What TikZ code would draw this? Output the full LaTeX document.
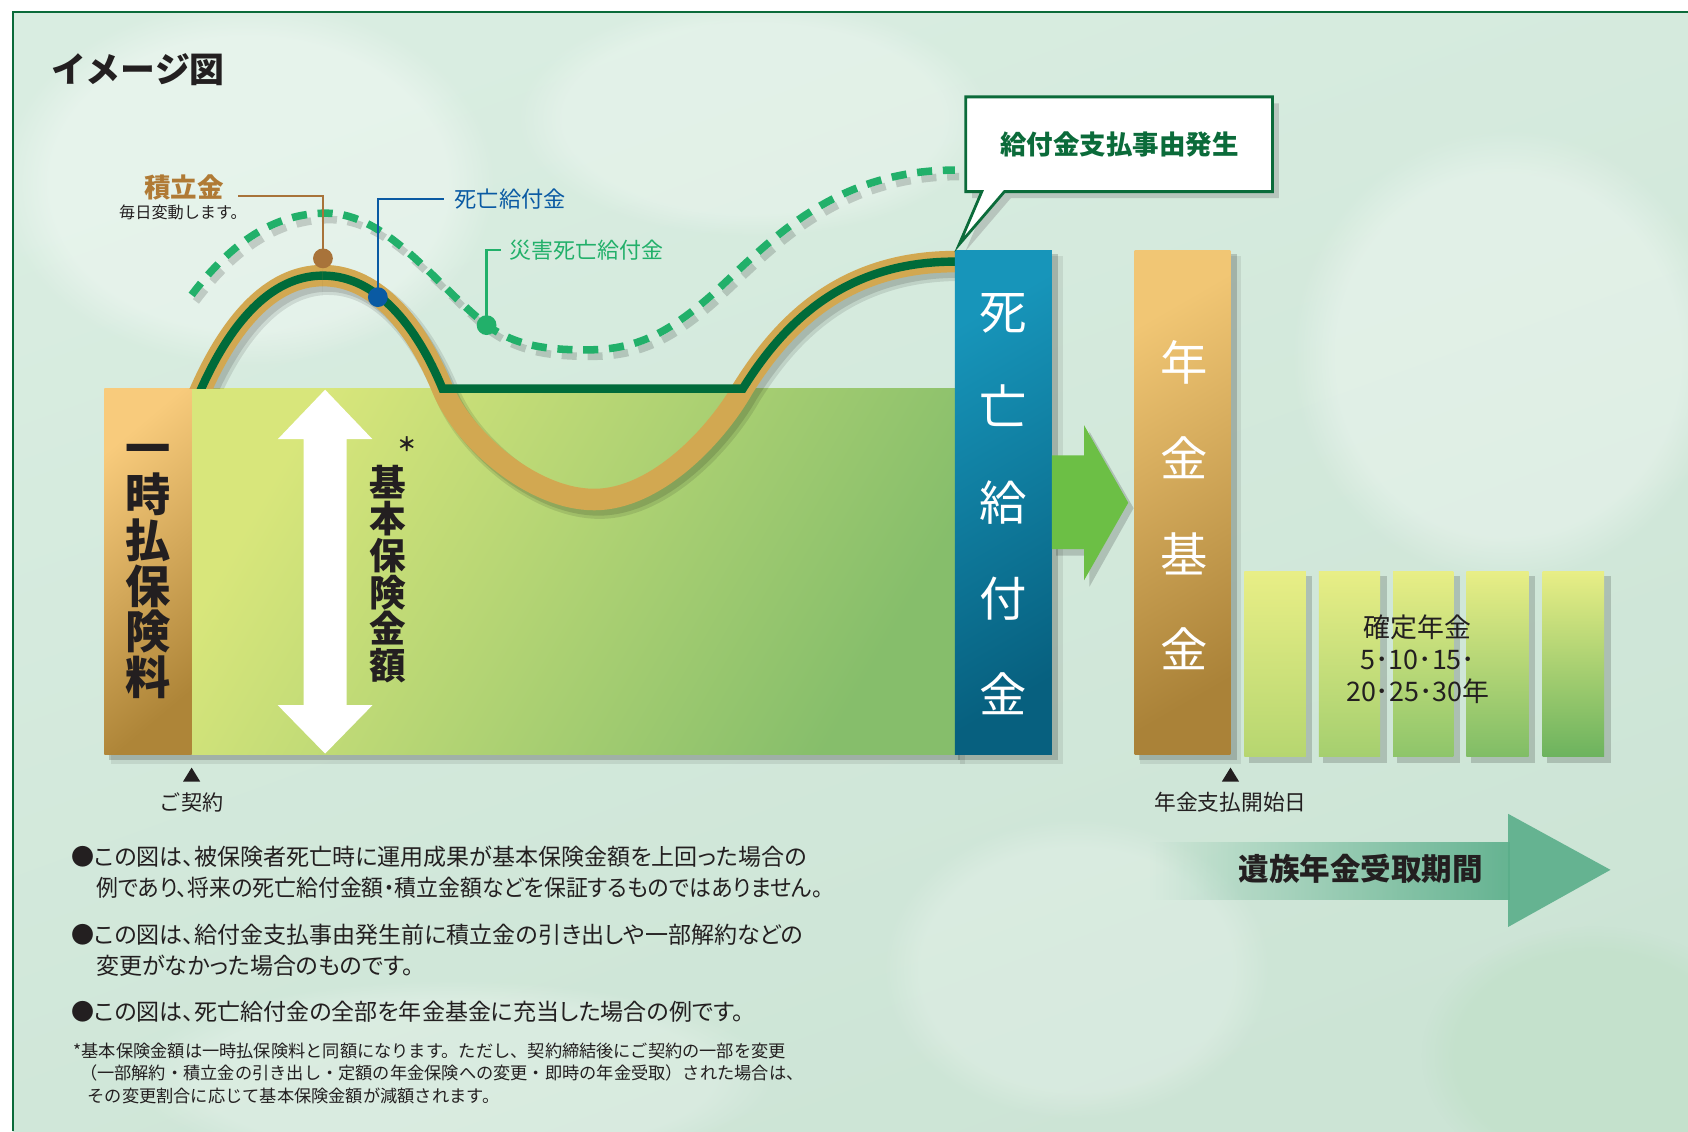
\documentclass[tikz,border=0pt]{standalone}
\usepackage{fontspec}
\setmainfont{Noto Sans CJK JP}
\newfontfamily\pfont{Noto Sans CJK JP}[RawFeature=+palt]
\newfontfamily\pfontn{Noto Sans CJK JP}[RawFeature=+palt, FakeStretch=0.95]
\usetikzlibrary{shadows,fadings}
\definecolor{bgA}{HTML}{D9EDE1}
\definecolor{bgC}{HTML}{CCE4D5}
\definecolor{framec}{HTML}{0B6B3A}
\definecolor{ink}{HTML}{231F20}
\definecolor{goldc}{HTML}{D2A851}
\definecolor{dkgreen}{HTML}{006B3A}
\definecolor{dotc}{HTML}{22B06A}
\definecolor{brownc}{HTML}{A8733A}
\definecolor{browntext}{HTML}{B07A35}
\definecolor{bluec}{HTML}{0A5AA3}
\definecolor{arrowgreen}{HTML}{6CBF45}
\definecolor{fadearrow}{HTML}{5AAE8A}
\definecolor{grA}{HTML}{D8E67B}
\definecolor{grB}{HTML}{86BE6B}
\definecolor{orA}{HTML}{F8CB7C}
\definecolor{orB}{HTML}{AE8538}
\definecolor{blA}{HTML}{1795BA}
\definecolor{blB}{HTML}{07607F}
\definecolor{fuA}{HTML}{F1C674}
\definecolor{fuB}{HTML}{AA8238}
\tikzfading[name=fadefromleft, left color=transparent!100, right color=transparent!0]
\newcommand\fsz[2]{\fontsize{#1}{#2}\selectfont}
\begin{document}
\begin{tikzpicture}[x=0.5pt,y=-0.5pt,
  lbl/.style={inner sep=0pt, text=ink},
  shadowfill/.style={fill=black, opacity=0.17},
  softshadow/.style={fill=black, opacity=0.08},
  dotshadow/.style={preaction={draw=black, opacity=0.16, line width=3.5pt, dash pattern=on 7pt off 5pt,
      transform canvas={shift={(2pt,-3pt)}}}},
  goldshadow/.style={preaction={draw=black, opacity=0.10, line width=12pt, transform canvas={shift={(2.5pt,-3pt)}}},
      preaction={draw=black, opacity=0.12, line width=10pt, transform canvas={shift={(2pt,-2.5pt)}}}},
  leaddot/.style={circle, inner sep=0pt, minimum size=9.2pt},
  leader/.style={line width=1.1pt},
  vtext/.style={inner sep=0pt, align=center},
  blob/.style={fill=white, path fading=circle with fuzzy edge 20 percent}
]
\path[use as bounding box] (0,0) rectangle (1568,1051);
\fill[white] (0,0) rectangle (1568,1051);
\shade[top color=bgA, bottom color=bgC, shading angle=20] (12,11) rectangle (1568,1051);
\begin{scope}
\clip (12,11) rectangle (1568,1051);
\fill[blob, opacity=0.35] (230,170) ellipse (230 and 170);
\fill[blob, opacity=0.28] (700,110) ellipse (220 and 110);
\fill[blob, opacity=0.32] (1400,330) ellipse (200 and 210);
\fill[blob, opacity=0.22] (1000,900) ellipse (180 and 140);
\fill[blob, opacity=0.22] (420,1000) ellipse (300 and 90);
\fill[black!40!green!50, opacity=0.10, path fading=circle with fuzzy edge 20 percent] (1480,980) ellipse (160 and 120);
\end{scope}
\draw[framec, line width=1.1pt] (12,1051) -- (12,11) -- (1568,11);

% title
\node[lbl, anchor=west, font=\fsz{16.2}{18}\bfseries] (title) at (47,65) {イメージ図};

% dotted curve
\draw[dotc, line width=3.5pt, dash pattern=on 7pt off 5pt, dotshadow]
  (178,274) .. controls (215,225) and (255,198) .. (303,198)
  .. controls (360,198) and (405,265) .. (452,302)
  .. controls (480,322) and (510,325) .. (545,325)
  .. controls (590,325) and (620,310) .. (660,275)
  .. controls (710,230) and (770,158) .. (887,158);

% green area and premium bar
\fill[softshadow] (103,368) rectangle (896,710);
\fill[shadowfill] (101,365) rectangle (892,706);
\shade[top color=grA, bottom color=grB, shading angle=60] (178,361) rectangle (887,701);
\shade[top color=orA, bottom color=orB, shading angle=40] (97,361) rectangle (178,701);

% white double arrow
\fill[white] (302,362) -- (346,408) -- (322,408) -- (322,655) -- (346,655) -- (302,700)
  -- (258,655) -- (282,655) -- (282,408) -- (258,408) -- cycle;

\node[vtext, text=ink, font=\fsz{21}{21.3}\bfseries] (premium) at (137.5,531) {一\\時\\払\\保\\険\\料};
\node[vtext, text=ink, font=\fsz{17}{17}\bfseries] (basic) at (360,533) {基\\本\\保\\険\\金\\額};
\node[lbl, font=\fsz{9}{9}\bfseries] (aster) at (378,413) {＊};

% gold band and green line
\begin{scope}
\clip (150,0) rectangle (300,361);
\draw[goldc, line width=10pt, goldshadow] (180.5,375.5) -- (187,361) .. controls (213,303) and (250,256) .. (300,256) -- (310,256);
\draw[dkgreen, line width=3.9pt] (180.5,375.5) -- (187,361) .. controls (213,303) and (250,256) .. (300,256) -- (310,256);
\end{scope}
\begin{scope}
\clip (300,0) rectangle (1000,1051);
\draw[goldc, line width=10pt, goldshadow] (290,256) -- (300,256) .. controls (350,256) and (387,303) .. (411,361)
  .. controls (431,409) and (495,464) .. (552,464)
  .. controls (609,464) and (665,405) .. (690,361)
  .. controls (725,305) and (780,243) .. (887,243) -- (905,243);
\draw[dkgreen, line width=3.9pt] (290,256) -- (300,256) .. controls (350,256) and (387,303) .. (411,361)
  -- (690,361) .. controls (725,305) and (780,243) .. (887,243) -- (905,243);
\end{scope}

% leaders and dots
\coordinate (pbrown) at (300,240);
\coordinate (pblue) at (351,276);
\coordinate (pgreen) at (452,302);
\coordinate (ebrown) at (221,182);
\node[lbl, anchor=west, text=bluec, font=\fsz{10.3}{12}] (lblue) at (422,185) {死亡給付金};
\node[lbl, anchor=west, text=dotc, font=\fsz{10.2}{12}] (lgreen) at (473,232) {災害死亡給付金};
\node[lbl, text=browntext, font=\fsz{12.3}{14}\bfseries] (lbrown) at (171,174) {積立金};
\node[lbl, font=\fsz{7.5}{9}] (lbrown2) at (170,197) {毎日変動します。};
\draw[brownc, leader] (pbrown) |- (ebrown);
\draw[bluec, leader] (pblue) |- ([xshift=-5pt]lblue.west);
\draw[dotc, leader] (pgreen) |- ([xshift=-4pt]lgreen.west);
\node[leaddot, fill=brownc] (dbrown) at (pbrown) {};
\node[leaddot, fill=bluec] (dblue) at (pblue) {};
\node[leaddot, fill=dotc] (dgreen) at (pgreen) {};

% blue bar
\fill[softshadow] (892,238) rectangle (987,710);
\fill[shadowfill] (890,236) rectangle (983,706);
\shade[top color=blA, bottom color=blB, shading angle=30] (887,233) rectangle (977,701);
\node[vtext, text=white, font=\fsz{22}{44.45}] (death) at (931.5,468) {死\\亡\\給\\付\\金};

% green arrow
\fill[shadowfill] (981,427) -- (1012,427) -- (1012,401) -- (1053,472) -- (1012,545) -- (1012,516) -- (981,516) -- cycle;
\fill[arrowgreen] (977,423) -- (1007,423) -- (1007,395) -- (1048,467) -- (1007,539) -- (1007,510) -- (977,510) -- cycle;

% pension fund bar
\fill[softshadow] (1059,238) rectangle (1153,710);
\fill[shadowfill] (1058,236) rectangle (1149,706);
\shade[top color=fuA, bottom color=fuB, shading angle=30] (1054,233) rectangle (1143,701);
\node[vtext, text=white, font=\fsz{22}{44.45}] (fund) at (1100,469.6) {年\\金\\基\\金};

% small annuity bars
\foreach \xa/\xb/\bot in {1156/1213/{rgb,255:red,182;green,214;blue,112},
                          1225/1282/{rgb,255:red,165;green,207;blue,111},
                          1294/1350/{rgb,255:red,142;green,197;blue,106},
                          1362/1420/{rgb,255:red,128;green,189;blue,102},
                          1433/1490/{rgb,255:red,108;green,179;blue,94}}{
  \fill[shadowfill] (\xa+4,535) rectangle (\xb+6,709);
  \shade[top color={rgb,255:red,232;green,238;blue,134}, middle color={rgb,255:red,214;green,228;blue,104}, bottom color=\bot]
    (\xa,531) rectangle (\xb,703);
}
\node[vtext, text=ink, font=\fsz{12.5}{14.75}] (fixed) at (1317,612.5) {確定年金\\5･10･15･\\20･25･30年};

% callout
\draw[framec, line width=1.3pt, fill=white, drop shadow={shadow xshift=3pt, shadow yshift=-3pt, opacity=0.35}]
  (897,90) -- (1182,90) -- (1182,178) -- (933,178) -- (891,227) -- (912,178) -- (897,178) -- cycle;
\node[lbl, text=framec, font=\fsz{12.3}{14}\bfseries] (callout) at (1040,134) {給付金支払事由発生};

% markers
\fill[ink] (178,713) -- (186,726) -- (170,726) -- cycle;
\node[lbl, font=\fsz{9.8}{12}] (contract) at (178,745) {ご契約};
\fill[ink] (1143,713) -- (1151,726) -- (1135,726) -- cycle;
\node[lbl, font=\fsz{10.1}{12}] (start) at (1143,745) {年金支払開始日};

% survivor pension arrow
\fill[fadearrow, opacity=0.9, path fading=fadefromleft] (1068,782) rectangle (1403,836);
\fill[fadearrow, opacity=0.9] (1401,756) -- (1496,808) -- (1401,861) -- cycle;
\node[lbl, font=\fsz{14.2}{16}\bfseries] (period) at (1264,807) {遺族年金受取期間};

% notes
\node[lbl, anchor=west, font=\pfont\fsz{10.7}{12}] (n1) at (66,796) {●この図は、被保険者死亡時に運用成果が基本保険金額を上回った場合の};
\node[lbl, anchor=west, font=\pfontn\fsz{10.7}{12}] (n1b) at (89,825) {例であり、将来の死亡給付金額・積立金額などを保証するものではありません。};
\node[lbl, anchor=west, font=\pfont\fsz{10.7}{12}] (n2) at (66,868) {●この図は、給付金支払事由発生前に積立金の引き出しや一部解約などの};
\node[lbl, anchor=west, font=\pfont\fsz{10.7}{12}] (n2b) at (89,897) {変更がなかった場合のものです。};
\node[lbl, anchor=west, font=\pfont\fsz{10.7}{12}] (n3) at (66,940) {●この図は、死亡給付金の全部を年金基金に充当した場合の例です。};
\node[lbl, anchor=west, font=\fsz{8}{10}] (f1) at (68,976) {*基本保険金額は一時払保険料と同額になります。ただし、契約締結後にご契約の一部を変更};
\node[lbl, anchor=west, font=\fsz{8}{10}] (f2) at (74,997) {（一部解約・積立金の引き出し・定額の年金保険への変更・即時の年金受取）された場合は、};
\node[lbl, anchor=west, font=\fsz{8}{10}] (f3) at (81,1018) {その変更割合に応じて基本保険金額が減額されます。};
\end{tikzpicture}
\end{document}
